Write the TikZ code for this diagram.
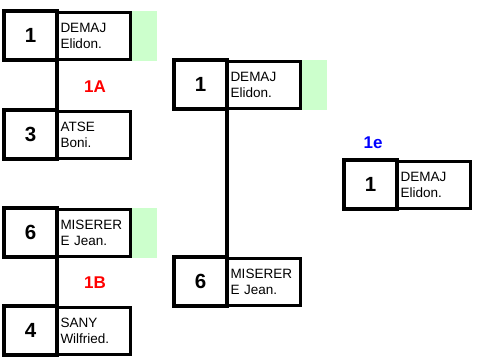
\documentclass[tikz,border=0pt]{standalone}
\usepackage{fontspec}
\setmainfont{Liberation Sans}
\definecolor{wingreen}{HTML}{CCFFCC}
\definecolor{lblred}{HTML}{FF0000}
\definecolor{lblblue}{HTML}{0000FF}
\tikzset{
  seedbox/.style={draw, line width=4pt, minimum width=53pt, minimum height=49pt, inner sep=0pt, outer sep=0pt, fill=white, font=\fontsize{20.5}{20.5}\selectfont\bfseries},
  namebox/.style={draw, line width=3pt, minimum width=74pt, minimum height=47pt, inner sep=0pt, outer sep=0pt, text width=66pt, align=left, fill=white, font=\fontsize{13.5}{16}\selectfont},
  winfill/.style={fill=wingreen, draw=none, minimum width=25pt, minimum height=50pt, inner sep=0pt},
  link/.style={line width=4pt},
  roundlabel/.style={font=\fontsize{17}{17}\selectfont\bfseries, text=lblred},
  finallabel/.style={font=\fontsize{17}{17}\selectfont\bfseries, text=lblblue},
}
% id, X, Y, seed, line1, line2
\newcommand{\entrybox}[6]{%
  \node[namebox] (#1n) at ({#2+91.5},{#3+27}) {#5\\#6};
  \node[seedbox] (#1s) at ({#2+28.5},{#3+26.5}) {#4};
}
\newcommand{\wingreen}[3]{%
  \node[winfill] (#1g) at ({#2+142.5},{#3+27}) {};
}
\begin{document}
\begin{tikzpicture}[x=1pt,y=-1pt]
  \useasboundingbox (0,0) rectangle (477,359);
  % winner highlights
  \wingreen{ra}{2}{9}
  \wingreen{rc}{2}{206}
  \wingreen{qa}{172}{58}
  % round 1
  \entrybox{ra}{2}{9}{1}{DEMAJ}{Elidon.}
  \entrybox{rb}{2}{108}{3}{ATSE}{Boni.}
  \entrybox{rc}{2}{206}{6}{MISERER}{E Jean.}
  \entrybox{rd}{2}{304}{4}{SANY}{Wilfried.}
  % round 2
  \entrybox{qa}{172}{58}{1}{DEMAJ}{Elidon.}
  \entrybox{qb}{172}{255}{6}{MISERER}{E Jean.}
  % final
  \entrybox{fa}{342}{158}{1}{DEMAJ}{Elidon.}
  % connectors
  \draw[link] (ras.south east) -- (rbs.north east);
  \draw[link] (rcs.south east) -- (rds.north east);
  \draw[link] (qas.south east) -- (qbs.north east);
  % labels
  \node[roundlabel] (la) at (95,87) {1A};
  \node[roundlabel] (lb) at (95,283) {1B};
  \node[finallabel] (le) at (373,143) {1e};
\end{tikzpicture}
\end{document}
